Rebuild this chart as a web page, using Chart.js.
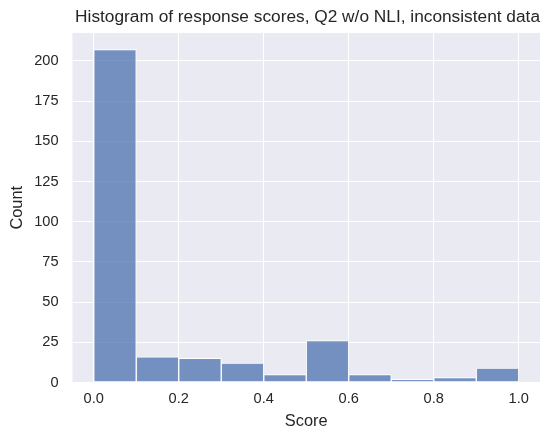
<!DOCTYPE html>
<html>
<head>
<meta charset="utf-8">
<script src="https://cdn.jsdelivr.net/npm/chart.js@4/dist/chart.umd.min.js"></script>
<style>
  html, body { margin: 0; padding: 0; background: #ffffff; }
  #wrap { width: 541px; height: 432px; }
</style>
</head>
<body>
<div id="wrap"><canvas id="chart"></canvas></div>
<script>
// histogram bins (left edges) and counts
const binStarts = [0.0, 0.1, 0.2, 0.3, 0.4, 0.5, 0.6, 0.7, 0.8, 0.9];
const binWidth = 0.1;
const counts = [207, 16, 15, 12, 5, 26, 5, 2, 3, 9];
const xTicks = [0.0, 0.2, 0.4, 0.6, 0.8, 1.0];
const yTicks = [0, 25, 50, 75, 100, 125, 150, 175, 200];

const textColor = "#262626";
const fontFamily = "'Liberation Sans', Arial, sans-serif";

const plotBackground = {
  id: "plotBackground",
  beforeDraw(chart) {
    const { ctx, chartArea } = chart;
    ctx.save();
    ctx.fillStyle = "#eaeaf2";
    ctx.fillRect(chartArea.left, chartArea.top, chartArea.width, chartArea.height);
    ctx.restore();
  },
};

new Chart(document.getElementById("chart"), {
  type: "bar",
  data: {
    datasets: [
      {
        data: binStarts.map((s, i) => ({ x: s + binWidth / 2, y: counts[i] })),
        backgroundColor: "rgba(76, 114, 176, 0.75)",
        borderColor: "#ffffff",
        borderWidth: 1,
        borderSkipped: false,
        barPercentage: 1,
        categoryPercentage: 1,
      },
    ],
  },
  options: {
    responsive: true,
    maintainAspectRatio: false,
    animation: false,
    layout: { padding: { left: 0, right: 1, top: 0, bottom: 0 } },
    plugins: {
      legend: { display: false },
      tooltip: { enabled: false },
      title: {
        display: true,
        text: "Histogram of response scores, Q2 w/o NLI, inconsistent data",
        align: "end",
        color: textColor,
        font: { family: fontFamily, size: 17.3, weight: "normal", lineHeight: 1.2 },
        padding: { top: 6.5, bottom: 5.7 },
      },
    },
    scales: {
      x: {
        type: "linear",
        offset: false,
        min: -0.05,
        max: 1.05,
        afterBuildTicks: (scale) => {
          scale.ticks = xTicks.map((v) => ({ value: v }));
        },
        afterFit: (scale) => {
          scale.height = 49.5;
        },
        grid: { color: "#ffffff", lineWidth: 1, drawTicks: false, offset: false },
        border: { display: false },
        ticks: {
          color: textColor,
          font: { family: fontFamily, size: 14.6 },
          padding: 8,
          maxRotation: 0,
          callback: (v) => Number(v).toFixed(1),
        },
        title: {
          display: true,
          text: "Score",
          color: textColor,
          font: { family: fontFamily, size: 16.4 },
          padding: { top: 0, bottom: 1 },
        },
      },
      y: {
        min: 0,
        max: 217.35,
        afterBuildTicks: (scale) => {
          scale.ticks = yTicks.map((v) => ({ value: v }));
        },
        afterFit: (scale) => {
          scale.width = 72.5;
        },
        grid: { color: "#ffffff", lineWidth: 1, drawTicks: false },
        border: { display: false },
        ticks: {
          color: textColor,
          font: { family: fontFamily, size: 14.6 },
          padding: 14,
        },
        title: {
          display: true,
          text: "Count",
          color: textColor,
          font: { family: fontFamily, size: 16.4 },
          padding: { top: 8, bottom: 0 },
        },
      },
    },
  },
  plugins: [plotBackground],
});
</script>
</body>
</html>
